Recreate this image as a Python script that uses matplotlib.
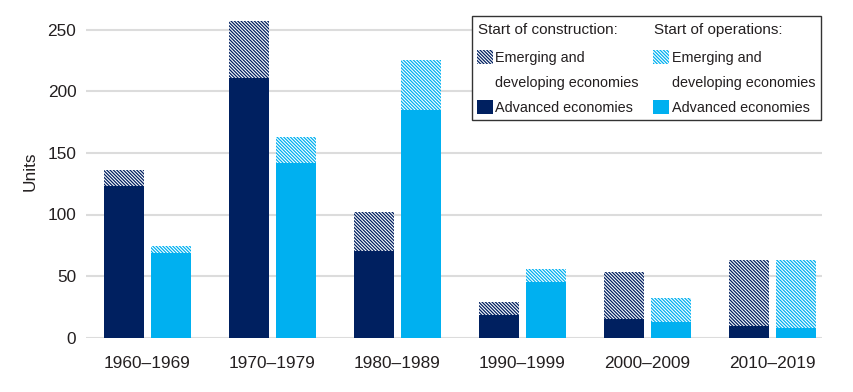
import numpy as np
import matplotlib
matplotlib.use("Agg")
import matplotlib.pyplot as plt
from matplotlib.patches import Patch

decades = ["1960–1969", "1970–1979", "1980–1989", "1990–1999", "2000–2009", "2010–2019"]

# start of construction
con_advanced = [123, 211, 70, 18, 15, 9]
con_emerging = [13, 46, 32, 11, 38, 54]

# start of operations
ops_advanced = [69, 142, 185, 45, 13, 8]
ops_emerging = [5, 21, 41, 11, 19, 55]

y_ticks = [0, 50, 100, 150, 200, 250]

NAVY = "#002060"
SKY = "#00b0f0"
GRID = "#dcdcdc"
TEXT = "#231f20"

plt.rcParams["font.family"] = ["Liberation Sans", "DejaVu Sans"]
plt.rcParams["hatch.linewidth"] = 0.9

fig = plt.figure(figsize=(8.54, 3.92), dpi=100)
ax = fig.add_axes([86 / 854, 1 - 337.5 / 392, (822 - 86) / 854, (337.5 - 5.4) / 392])

x = np.arange(len(decades))
w = 0.32
off = 0.188
hatch = "\\" * 10

ax.bar(x - off, con_advanced, w, color=NAVY, linewidth=0, zorder=3)
ax.bar(x - off, con_emerging, w, bottom=con_advanced, facecolor="white",
       edgecolor=NAVY, hatch=hatch, linewidth=0, zorder=3)
ax.bar(x + off, ops_advanced, w, color=SKY, linewidth=0, zorder=3)
ax.bar(x + off, ops_emerging, w, bottom=ops_advanced, facecolor="white",
       edgecolor=SKY, hatch=hatch, linewidth=0, zorder=3)

ax.set_xlim(-0.49, 5.40)
ax.set_ylim(0, 270)
ax.set_yticks(y_ticks)
ax.set_xticks(x)
ax.set_xticklabels(decades)
for s in ax.spines.values():
    s.set_visible(False)
ax.grid(axis="y", color=GRID, linewidth=1.5, zorder=0)
ax.tick_params(axis="both", length=0, labelsize=12.4, colors=TEXT)
ax.tick_params(axis="y", pad=7)
ax.tick_params(axis="x", pad=13)
ax.set_ylabel("Units", fontsize=12.4, color=TEXT, labelpad=7)

# legend: second line of the emerging label is its own row so the swatch sits on the first line
blank = Patch(facecolor="none", edgecolor="none")
handles = [
    Patch(facecolor="white", edgecolor=NAVY, hatch=hatch, linewidth=0),
    blank,
    Patch(facecolor=NAVY, linewidth=0),
    Patch(facecolor="white", edgecolor=SKY, hatch=hatch, linewidth=0),
    blank,
    Patch(facecolor=SKY, linewidth=0),
]
labels = ["Emerging and", "developing economies", "Advanced economies",
          "Emerging and", "developing economies", "Advanced economies"]
leg_size = 10.4
leg = ax.legend(handles, labels, ncol=2, loc="upper right",
                bbox_to_anchor=(820.7 / 854, 1 - 16 / 392), bbox_transform=fig.transFigure,
                borderaxespad=0, title=" ", title_fontsize=15,
                prop={"size": leg_size},
                handlelength=1.1, handleheight=1.1, handletextpad=0.2,
                columnspacing=1.0, labelspacing=0.7, borderpad=0.35,
                fancybox=False, edgecolor="#333333", framealpha=1)
leg.get_frame().set_linewidth(1.0)
for t in leg.get_texts():
    t.set_color(TEXT)

fig.text(478 / 854, 1 - 30 / 392, "Start of construction:", fontsize=leg_size + 0.6, color=TEXT,
         va="center", ha="left")
fig.text(654 / 854, 1 - 30 / 392, "Start of operations:", fontsize=leg_size + 0.6, color=TEXT,
         va="center", ha="left")

fig.savefig("out.png", dpi=100)
